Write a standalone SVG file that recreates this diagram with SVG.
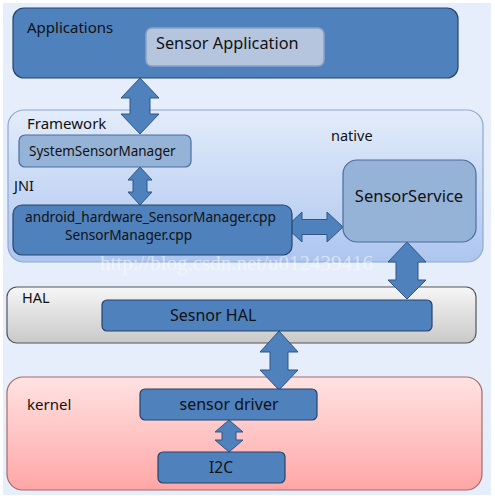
<svg xmlns="http://www.w3.org/2000/svg" width="495" height="498" viewBox="0 0 495 498">
<defs>
<linearGradient id="gFw" x1="0" y1="0" x2="0" y2="1"><stop offset="0" stop-color="#e3ecfa"/><stop offset="1" stop-color="#adc6ef"/></linearGradient>
<linearGradient id="gHal" x1="0" y1="0" x2="0" y2="1"><stop offset="0" stop-color="#f6f6f6"/><stop offset="1" stop-color="#c9c9c9"/></linearGradient>
<linearGradient id="gK" x1="0" y1="0" x2="0" y2="1"><stop offset="0" stop-color="#ffe3e3"/><stop offset="1" stop-color="#ffa6a6"/></linearGradient>
</defs>
<style>
text{font-family:"Noto Sans","Open Sans","DejaVu Sans",sans-serif;fill:#111;}
.blue{fill:#4f81bd;stroke:#26446a;stroke-width:1.2;}
.light{fill:#95b3d7;stroke:#4a6e9e;stroke-width:1.2;}
.arr{fill:#4f81bd;stroke:#2f5687;stroke-width:1;}
</style>
<rect x="0" y="0" width="495" height="498" fill="#ffffff"/>
<rect x="3" y="3" width="488" height="492" fill="#e5eefa"/>
<g id="applications">
<rect x="13" y="8" width="445" height="70" rx="11" class="blue"/>
<text x="27" y="33" font-size="15">Applications</text>
</g>
<g id="framework">
<rect x="8" y="110" width="475" height="152" rx="16" fill="url(#gFw)" stroke="#8ea9d2" stroke-width="1.2"/>
<text x="27" y="129" font-size="15">Framework</text>
<text x="331" y="141" font-size="14.5">native</text>
<text x="14" y="191" font-size="14.5">JNI</text>
</g>
<g id="hal">
<rect x="7" y="287" width="469" height="56" rx="10" fill="url(#gHal)" stroke="#555" stroke-width="1.2"/>
<text x="22" y="303" font-size="14.5">HAL</text>
</g>
<g id="kernel">
<rect x="7" y="377" width="475" height="113" rx="16" fill="url(#gK)" stroke="#a86a6a" stroke-width="1.2"/>
<text x="27" y="410" font-size="15">kernel</text>
</g>
<text x="100" y="270" font-size="21" style="font-family:'Liberation Serif',serif;fill:#ffffff" opacity="0.5">http://blog.csdn.net/u012439416</text>
<g id="connectors">
<polygon class="arr" points="140,78 159,98 150,98 150,114 159,114 140,134 121,114 130,114 130,98 121,98"/>
<polygon class="arr" points="140,167 152,180 147,180 147,192 152,192 140,205 128,192 133,192 133,180 128,180"/>
<polygon class="arr" points="286,227 302,212 302,219.5 327,219.5 327,212 343,227 327,242 327,234.5 302,234.5 302,242"/>
<polygon class="arr" points="407,242 426,262 418,262 418,280 426,280 407,299 388,280 396,280 396,262 388,262"/>
<polygon class="arr" points="279,331 298,352 288,352 288,370 298,370 279,390 260,370 270,370 270,352 260,352"/>
<polygon class="arr" points="229,420 243,432 236,432 236,440 243,440 229,452 215,440 222,440 222,432 215,432"/>
</g>
<g id="sensor-application">
<rect x="146" y="28" width="178" height="38" rx="6" fill="#b5c5de" stroke="#8aa2c6" stroke-width="1.5"/>
<text x="156" y="49" font-size="16.3">Sensor Application</text>
</g>
<g id="system-sensor-manager">
<rect x="19" y="135" width="172" height="32" rx="6" class="light"/>
<text x="29" y="156" font-size="13.5">SystemSensorManager</text>
</g>
<g id="jni-sensor-manager">
<rect x="13" y="205" width="279" height="50" rx="9" class="blue"/>
<text x="25" y="222" font-size="13.7">android_hardware_SensorManager.cpp</text>
<text x="65" y="240" font-size="13.7">SensorManager.cpp</text>
</g>
<g id="sensor-service">
<rect x="343" y="160" width="133" height="82" rx="14" class="light"/>
<text x="409" y="202" font-size="16.5" text-anchor="middle">SensorService</text>
</g>
<g id="sensor-hal">
<rect x="102" y="300" width="330" height="31" rx="5" class="blue"/>
<text x="170" y="321" font-size="16">Sesnor HAL</text>
</g>
<g id="sensor-driver">
<rect x="140" y="389" width="177" height="31" rx="5" class="blue"/>
<text x="229" y="410" font-size="16" text-anchor="middle">sensor driver</text>
</g>
<g id="i2c">
<rect x="158" y="452" width="127" height="31" rx="5" class="blue"/>
<text x="221" y="473" font-size="15.5" text-anchor="middle">I2C</text>
</g>
</svg>
